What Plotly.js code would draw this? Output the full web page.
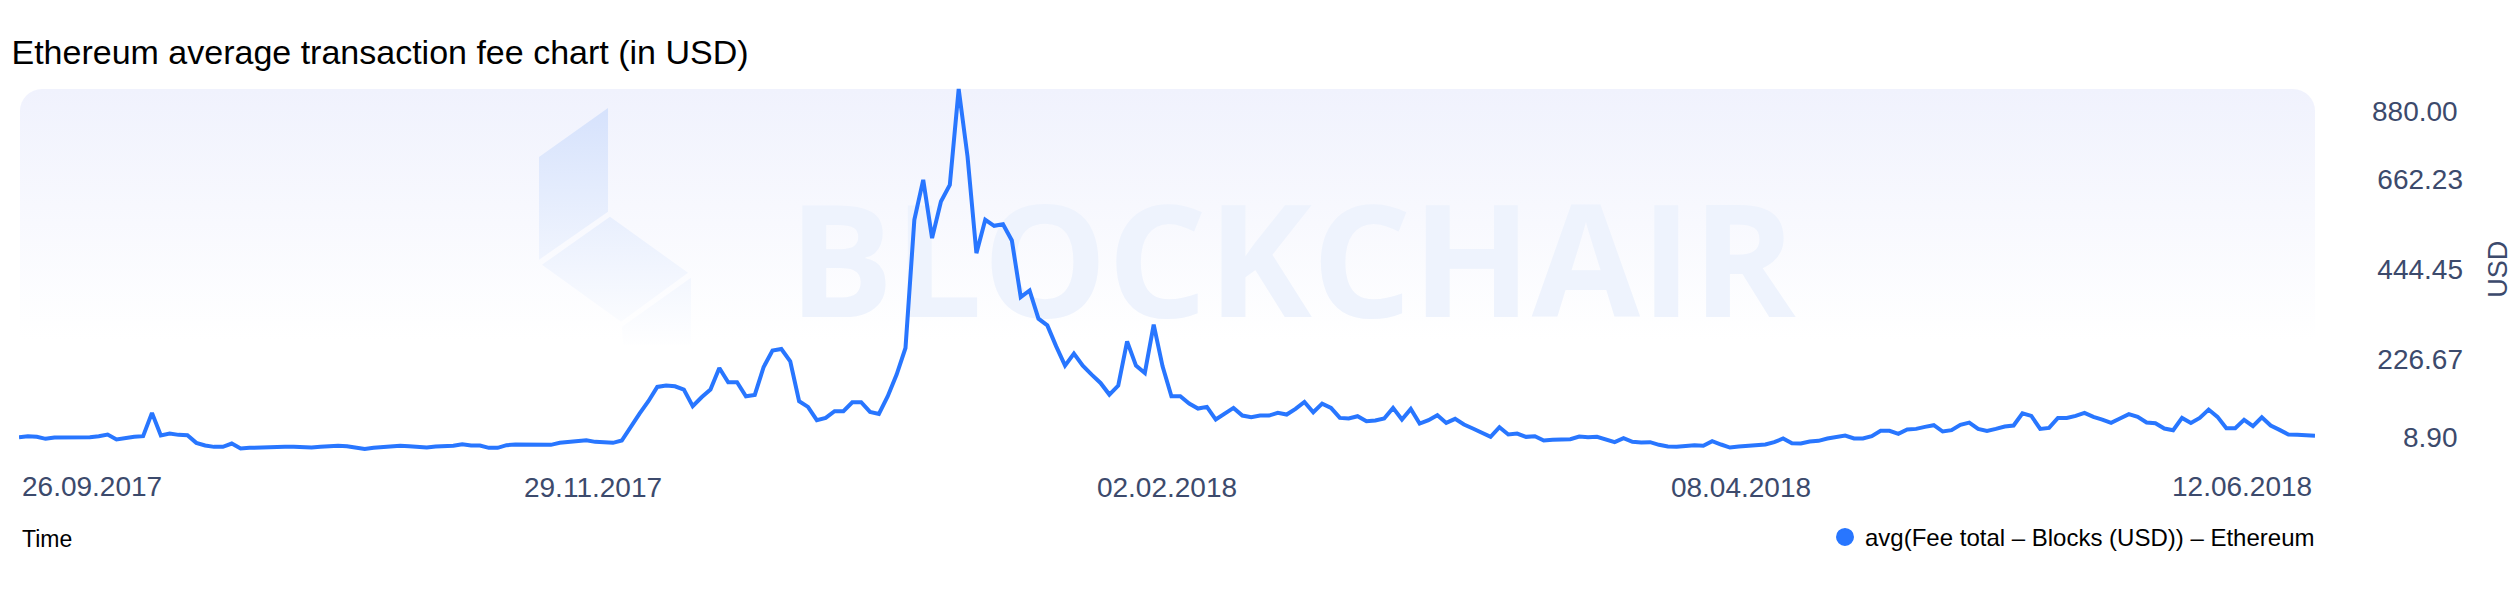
<!DOCTYPE html>
<html>
<head>
<meta charset="utf-8">
<script src="https://cdn.plot.ly/plotly-3.0.1.min.js"></script>
<style>
html,body{margin:0;padding:0;background:#fff;}
#chart{width:2520px;height:608px;}
</style>
</head>
<body>
<div id="chart"></div>
<script>
// ---------------- data ----------------
const startDate = '2017-09-26';
const seriesName = 'avg(Fee total \u2013 Blocks (USD)) \u2013 Ethereum';
const feeUSD = [
  37.5, 39.9, 38.3, 33.5, 36.7, 36.7, 36.7, 37.5, 37.5, 39.9,
  43.9, 31.9, 35.9, 38.3, 39.9, 96.3, 41.5, 46.3, 43.1, 42.3,
  23.8, 17.4, 14.1, 14.1, 22.2, 10.2, 11.7, 12.5, 14.9, 15.7,
  14.1, 14.1, 12.5, 12.5, 14.1, 15.7, 16.6, 15.7, 12.5, 8.9,
  11.7, 14.1, 15.7, 16.6, 15.7, 14.1, 12.5, 14.9, 14.9, 16.6,
  20.6, 17.4, 17.4, 11.7, 11.7, 18.2, 19.8, 20.2, 20.6, 19.8,
  19.0, 23.8, 26.2, 29.4, 30.2, 26.2, 26.2, 23.8, 29.4, 64.1,
  94.7, 124.5, 159.1, 162.3, 160.7, 152.7, 112.4, 134.1, 152.7, 205.0,
  170.4, 170.4, 136.5, 139.8, 207.4, 246.9, 250.9, 221.1, 124.5, 110.8,
  78.6, 84.2, 100.3, 100.3, 122.0, 122.0, 98.7, 93.9, 136.5, 188.9,
  253.3, 563.4, 660.0, 519.1, 607.7, 647.9, 880.0, 716.4, 482.8, 563.4,
  548.9, 552.9, 513.4, 376.5, 392.6, 324.2, 308.1, 257.3, 210.6, 239.6,
  210.6, 188.9, 168.8, 140.6, 162.3, 269.4, 210.6, 192.9, 309.7, 209.0,
  136.5, 136.5, 118.8, 106.8, 110.8, 80.2, 94.7, 108.4, 89.8, 85.8,
  89.8, 89.8, 96.3, 92.3, 105.9, 122.9, 97.9, 118.8, 108.4, 84.2,
  82.6, 88.2, 76.1, 77.8, 82.6, 108.4, 80.2, 105.9, 70.5, 78.6,
  90.6, 72.1, 81.8, 68.1, 58.4, 48.0, 38.3, 61.6, 43.9, 46.3,
  38.3, 39.9, 29.4, 31.1, 31.1, 32.7, 39.1, 37.5, 38.3, 31.9,
  25.4, 35.1, 26.2, 24.6, 25.4, 19.0, 14.9, 14.1, 16.6, 18.2,
  16.6, 27.8, 19.8, 12.5, 14.9, 16.6, 16.6, 19.8, 25.4, 34.3,
  23.0, 22.2, 27.0, 28.6, 34.3, 38.3, 41.5, 34.3, 34.3, 39.9,
  52.8, 52.8, 45.5, 56.0, 57.6, 62.5, 66.5, 51.2, 54.4, 67.3,
  72.9, 57.6, 52.8, 57.6, 63.3, 65.7, 95.5, 89.0, 57.6, 60.0,
  84.2, 84.2, 89.0, 96.3, 86.6, 80.2, 72.1, 82.6, 93.1, 86.6,
  72.9, 71.3, 58.4, 54.4, 84.2, 72.1, 84.2, 104.3, 86.6, 59.2,
  59.2, 79.4, 64.1, 85.8, 65.7, 55.2, 43.9, 43.1, 41.5, 40.7
];
const xTickVals = ['2017-09-26', '2017-11-29 18:00', '2018-02-02 12:00', '2018-04-08 06:00', '2018-06-12'];
const xTickText = ['26.09.2017', '29.11.2017', '02.02.2018', '08.04.2018', '12.06.2018'];
const yTickVals = [8.90, 226.67, 444.45, 662.23, 880.00];
const yTickText = ['8.90', '226.67', '444.45', '662.23', '880.00'];

// daily dates
const dates = feeUSD.map(function (_, i) {
  const d = new Date(startDate + 'T00:00:00Z');
  d.setUTCDate(d.getUTCDate() + i);
  return d.toISOString().slice(0, 10);
});

// ---------------- geometry helpers ----------------
const W = 2520, H = 608;
const L = 19, PR = 2480;           // paper left/right in px
const T = 85, B = 453.5;           // plot top/bottom in px
const PW = PR - L, PH = B - T;
const plotRight = 2315;
const px2x = function (px) { return (px - L) / PW; };
const px2y = function (py) { return (B - py) / PH; };

const yMin = yTickVals[0], yMax = yTickVals[yTickVals.length - 1];
const padVal = 4 * (yMax - yMin) / (PH - 8);

const FONT = 'Liberation Sans, Arial, Helvetica, sans-serif';
const TICKCOL = '#3c4a6c';
const LINECOL = '#2876ff';

// background gradient + logo (decoration only)
const svg = "<svg xmlns='http://www.w3.org/2000/svg' width='2520' height='608' viewBox='0 0 2520 608'>" +
  "<defs>" +
  "<linearGradient id='g' gradientUnits='userSpaceOnUse' x1='0' y1='89' x2='0' y2='340'>" +
  "<stop offset='0' stop-color='#f0f2fd'/><stop offset='1' stop-color='#ffffff'/></linearGradient>" +
  "<linearGradient id='l' gradientUnits='userSpaceOnUse' x1='0' y1='108' x2='0' y2='350'>" +
  "<stop offset='0' stop-color='#d6e2fc'/><stop offset='1' stop-color='#ffffff'/></linearGradient>" +
  "</defs>" +
  "<rect x='20' y='89' width='2295' height='270' rx='22' ry='22' fill='url(#g)'/>" +
  "<path d='M539 157 L608 108 L608 212 L539 260 Z' fill='url(#l)'/>" +
  "<path d='M542 265 L610 217 L688 273 L621 322 Z' fill='url(#l)'/>" +
  "<path d='M622 327 L691 278 L691 345 L623 345 Z' fill='url(#l)'/>" +
  "</svg>";
const svgURI = 'data:image/svg+xml;charset=utf-8,' + encodeURIComponent(svg);

// ---------------- traces ----------------
const traces = [
  {
    type: 'scatter', mode: 'lines',
    x: dates, y: feeUSD,
    name: seriesName, showlegend: false,
    line: {color: LINECOL, width: 4},
    hoverinfo: 'skip'
  },
  {
    type: 'scatter', mode: 'markers',
    x: [null], y: [null],
    name: seriesName, showlegend: true,
    marker: {color: LINECOL, size: 16, line: {color: LINECOL, width: 2}}
  }
];

const layout = {
  width: W, height: H, autosize: false,
  margin: {l: L, r: W - PR, t: T, b: H - B, pad: 0},
  paper_bgcolor: '#ffffff',
  plot_bgcolor: 'rgba(0,0,0,0)',
  font: {family: FONT, color: TICKCOL},
  title: {
    text: 'Ethereum average transaction fee chart (in USD)',
    font: {family: FONT, size: 34, color: '#000000'},
    x: 11.5 / W, xref: 'container', xanchor: 'left',
    y: 1 - 52 / H, yref: 'container', yanchor: 'middle'
  },
  xaxis: {
    type: 'date',
    domain: [0, px2x(plotRight)],
    range: [xTickVals[0], xTickVals[xTickVals.length - 1]],
    tickmode: 'array',
    tickvals: xTickVals.slice(1, -1),
    ticktext: xTickText.slice(1, -1),
    tickfont: {family: FONT, size: 28, color: TICKCOL},
    ticklabelstandoff: 15,
    ticks: '', showgrid: false, zeroline: false, showline: false,
    automargin: false, fixedrange: true
  },
  yaxis: {
    range: [yMin - padVal, yMax + padVal],
    anchor: 'free', position: px2x(2463), side: 'left',
    tickmode: 'array',
    tickvals: yTickVals.slice(1, -1),
    ticktext: yTickText.slice(1, -1),
    tickfont: {family: FONT, size: 28, color: TICKCOL},
    ticks: '', showgrid: false, zeroline: false, showline: false,
    automargin: false, fixedrange: true
  },
  showlegend: true,
  legend: {
    orientation: 'h',
    x: px2x(plotRight + 5), xanchor: 'right',
    y: px2y(538), yanchor: 'middle',
    font: {family: FONT, size: 24, color: '#000000'},
    bgcolor: 'rgba(0,0,0,0)', borderwidth: 0
  },
  images: [{
    source: svgURI, xref: 'paper', yref: 'paper',
    x: px2x(0), y: px2y(0), sizex: W / PW, sizey: H / PH,
    xanchor: 'left', yanchor: 'top', sizing: 'stretch', layer: 'below'
  }],
  shapes: [{
    type: 'rect', xref: 'paper', yref: 'paper', layer: 'below',
    x0: px2x(787), x1: px2x(1797), y0: px2y(330), y1: px2y(205),
    line: {width: 0}, fillcolor: 'rgba(0,0,0,0)',
    label: {
      text: 'BLOCKCHAIR', textposition: 'middle center',
      font: {family: 'Open Sans, Lato, sans-serif', size: 157, weight: 700, color: '#eef3fd'}
    }
  }],
  annotations: [
    // first / last x tick labels (kept inside the plot span)
    {text: xTickText[0], xref: 'x', x: xTickVals[0], xanchor: 'left', xshift: 1,
     yref: 'paper', y: px2y(487), yanchor: 'middle', showarrow: false,
     font: {family: FONT, size: 28, color: TICKCOL}},
    {text: xTickText[4], xref: 'x', x: xTickVals[4], xanchor: 'right', xshift: -1,
     yref: 'paper', y: px2y(487), yanchor: 'middle', showarrow: false,
     font: {family: FONT, size: 28, color: TICKCOL}},
    // top / bottom y tick labels
    {text: yTickText[4], xref: 'paper', x: px2x(2460), xanchor: 'right',
     yref: 'y', y: yTickVals[4], yshift: -23, yanchor: 'middle', showarrow: false,
     font: {family: FONT, size: 28, color: TICKCOL}},
    {text: yTickText[0], xref: 'paper', x: px2x(2460), xanchor: 'right',
     yref: 'y', y: yTickVals[0], yshift: 12, yanchor: 'middle', showarrow: false,
     font: {family: FONT, size: 28, color: TICKCOL}},
    // axis titles
    {text: 'USD', xref: 'paper', x: px2x(2498), xanchor: 'center',
     yref: 'paper', y: px2y(270), yanchor: 'middle', textangle: -90, showarrow: false,
     font: {family: FONT, size: 27, color: TICKCOL}},
    {text: 'Time', xref: 'paper', x: px2x(20), xanchor: 'left',
     yref: 'paper', y: px2y(540), yanchor: 'middle', showarrow: false,
     font: {family: FONT, size: 23, color: '#000000'}}
  ]
};

Plotly.newPlot('chart', traces, layout, {staticPlot: true, displayModeBar: false});
</script>
</body>
</html>
